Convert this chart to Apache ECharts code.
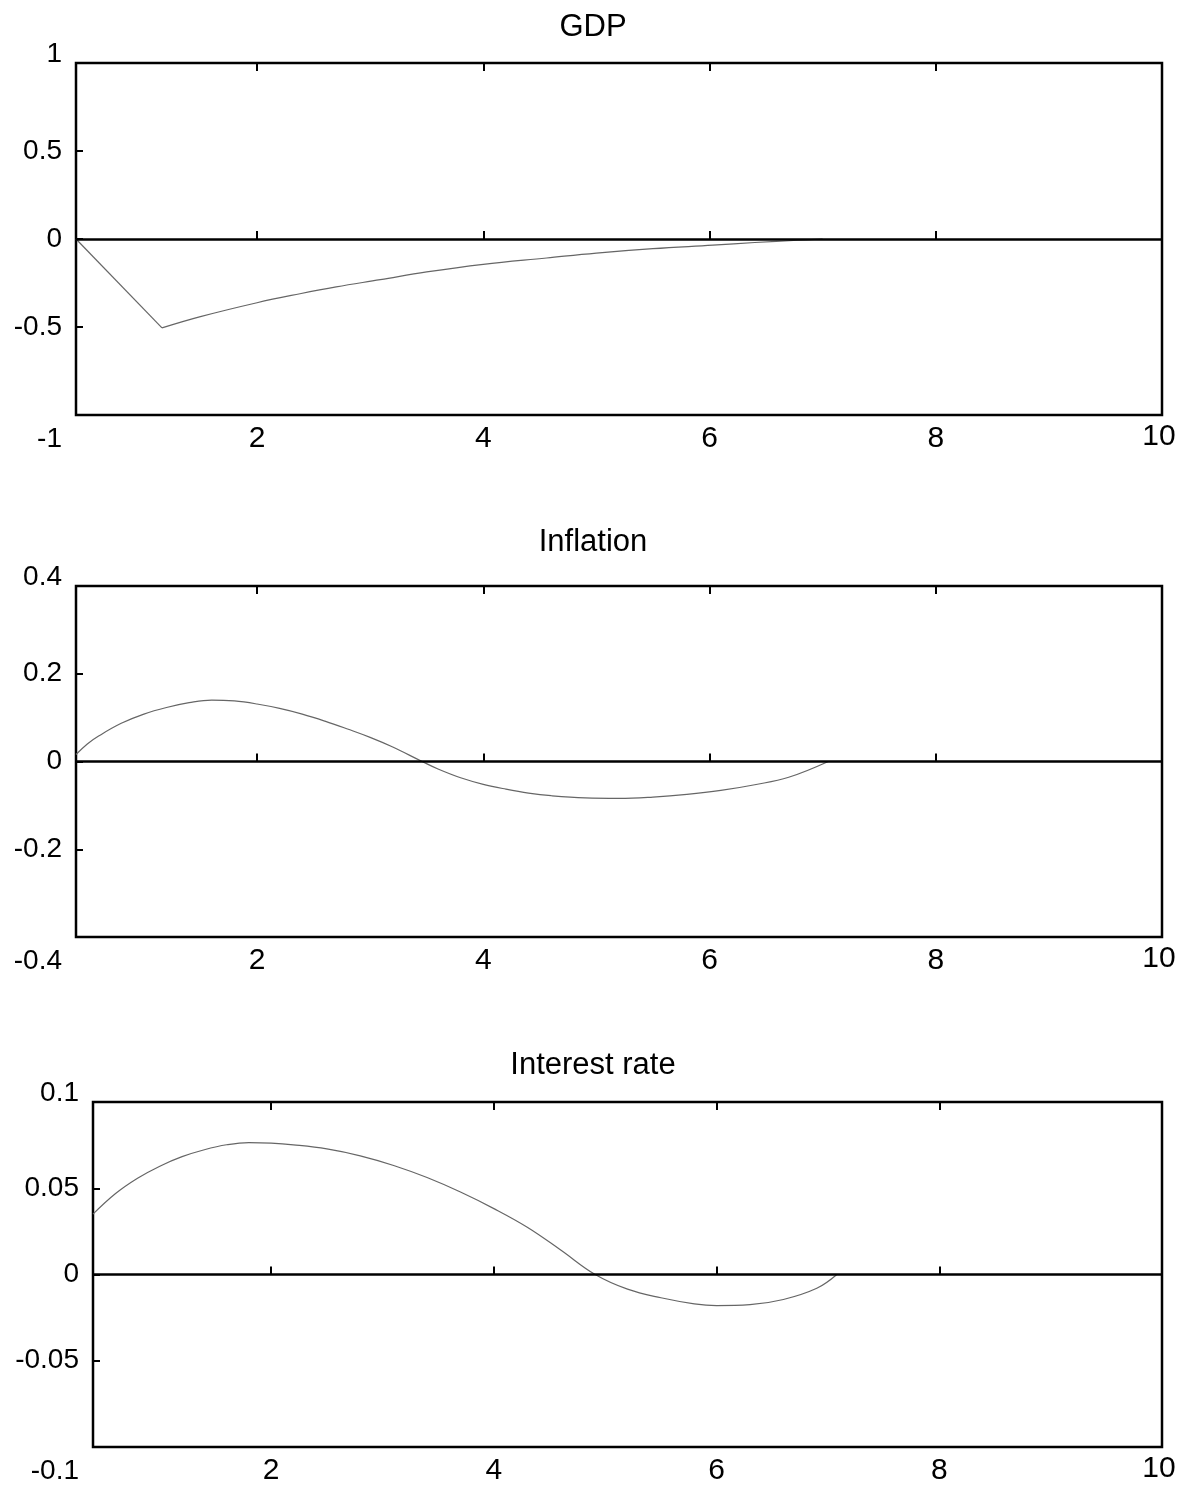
<!DOCTYPE html>
<html>
<head>
<meta charset="utf-8">
<script src="https://cdn.jsdelivr.net/npm/echarts@6/dist/echarts.min.js"></script>
<style>
html,body{margin:0;padding:0;background:#fff;}
#chart{width:1186px;height:1486px;}
</style>
</head>
<body>
<div id="chart"></div>
<script>
// ---- Data ----
const titles = ['GDP', 'Inflation', 'Interest rate'];
const xTickValues = [2, 4, 6, 8];
const xLabelValues = [2, 4, 6, 8, 10];
const xMin = 0.4, xMax = 10;

// GDP: straight drop to the trough, then a smooth decay back to zero
const gdpDropX = [0.4, 1.16];
const gdpDropY = [0, -0.505];
const gdpDecayX = [1.16, 1.5, 2.0, 2.38, 2.7, 3.09, 3.5, 4.0, 4.56, 5.0, 5.5, 6.03, 6.4, 6.78, 7.0];
const gdpDecayY = [-0.505, -0.441, -0.362, -0.311, -0.272, -0.231, -0.187, -0.144, -0.108, -0.080, -0.055, -0.035, -0.020, -0.007, 0];

const infX = [0.4, 0.5, 0.6, 0.8, 1.0, 1.2, 1.4, 1.6, 1.8, 2.0, 2.2, 2.4, 2.6, 2.8, 3.0, 3.2, 3.46, 3.6, 3.8, 4.0, 4.2, 4.4, 4.6, 4.9, 5.2, 5.5, 5.8, 6.1, 6.4, 6.7, 7.05];
const infY = [0.016, 0.040, 0.058, 0.087, 0.108, 0.123, 0.134, 0.140, 0.138, 0.131, 0.121, 0.108, 0.092, 0.074, 0.055, 0.033, 0, -0.017, -0.037, -0.052, -0.063, -0.072, -0.078, -0.083, -0.084, -0.081, -0.075, -0.066, -0.053, -0.036, 0];

const intX = [0.4, 0.6, 0.8, 1.0, 1.2, 1.4, 1.6, 1.8, 2.0, 2.2, 2.5, 2.8, 3.1, 3.4, 3.7, 4.0, 4.3, 4.6, 4.91, 5.2, 5.5, 5.8, 6.0, 6.3, 6.6, 6.9, 7.08];
const intY = [0.035, 0.0468, 0.0558, 0.0628, 0.0683, 0.0723, 0.0752, 0.0765, 0.0762, 0.0752, 0.0728, 0.0688, 0.0632, 0.0562, 0.0478, 0.0382, 0.0274, 0.0142, 0, -0.0085, -0.0135, -0.0170, -0.0180, -0.0175, -0.0145, -0.0080, 0];

const yRanges = [[-1, 1, 0.5], [-0.4, 0.4, 0.2], [-0.1, 0.1, 0.05]];

// ---- Layout ----
const FONT = '"Liberation Sans", Arial, Helvetica, sans-serif';
const grids = [
  {left: 76, top: 63, width: 1086, height: 352},
  {left: 76, top: 586, width: 1086, height: 351},
  {left: 93, top: 1102, width: 1069, height: 345}
];
const titleTops = [12, 527, 1050];
const LINE_COLOR = '#666666';
const YFS = 28, XFS = 30;

function zip(xs, ys) { return xs.map((x, i) => [x, ys[i]]); }

const option = {
  backgroundColor: '#fff',
  animation: false,
  title: titles.map((t, i) => ({
    text: t, left: 'center', top: titleTops[i], padding: 0,
    textStyle: {fontFamily: FONT, fontSize: 31, fontWeight: 'normal', color: '#000'}
  })),
  grid: grids.map(g => Object.assign({show: true, borderColor: '#000', borderWidth: 2.5, backgroundColor: 'transparent'}, g)),
  xAxis: [],
  yAxis: [],
  series: []
};

grids.forEach((g, i) => {
  option.xAxis.push({
    type: 'value', gridIndex: i, min: xMin, max: xMax, position: 'bottom',
    axisLine: {show: false},
    splitLine: {show: false},
    axisTick: {show: true, inside: true, length: 8, lineStyle: {color: '#000', width: 2}, customValues: xTickValues},
    axisLabel: {
      show: true, customValues: xLabelValues, margin: 9,
      fontFamily: FONT, fontSize: XFS, color: '#000',
      formatter: v => (v === xMax ? '{mx|' + v + '}' : String(v)),
      rich: {mx: {fontFamily: FONT, fontSize: XFS, color: '#000', lineHeight: 25, padding: [0, 6, 0, 0]}}
    }
  });
  option.xAxis.push({
    type: 'value', gridIndex: i, min: xMin, max: xMax, position: 'top',
    axisLine: {show: false}, splitLine: {show: false}, axisLabel: {show: false},
    axisTick: {show: true, inside: true, length: 8, lineStyle: {color: '#000', width: 2}, customValues: xTickValues}
  });
  const [ymin, ymax, step] = yRanges[i];
  option.yAxis.push({
    type: 'value', gridIndex: i, min: ymin, max: ymax, interval: step,
    axisLine: {show: false}, splitLine: {show: false},
    axisTick: {show: true, inside: true, length: 7, lineStyle: {color: '#000', width: 2}},
    axisLabel: {
      show: true, margin: 14, fontFamily: FONT, fontSize: YFS, color: '#000',
      formatter: function (v) {
        const s = String(+v.toFixed(4));
        if (Math.abs(v - ymax) < 1e-9) return '{mx|' + s + '}';
        if (Math.abs(v - ymin) < 1e-9) return '{mn|' + s + '}';
        return s;
      },
      rich: {
        mx: {fontFamily: FONT, fontSize: YFS, color: '#000', padding: [0, 0, 18, 0]},
        mn: {fontFamily: FONT, fontSize: YFS, color: '#000', padding: [48, 0, 0, 0]}
      }
    }
  });
});

const zeroLine = {
  silent: true, symbol: 'none', animation: false,
  label: {show: false},
  lineStyle: {color: '#000', width: 2.5, type: 'solid'},
  data: [{yAxis: 0}]
};
const lineBase = {type: 'line', showSymbol: false, lineStyle: {color: LINE_COLOR, width: 1.2}};

option.series = [
  Object.assign({}, lineBase, {xAxisIndex: 0, yAxisIndex: 0, data: zip(gdpDropX, gdpDropY), smooth: false, markLine: zeroLine}),
  Object.assign({}, lineBase, {xAxisIndex: 0, yAxisIndex: 0, data: zip(gdpDecayX, gdpDecayY), smooth: 0.4}),
  Object.assign({}, lineBase, {xAxisIndex: 2, yAxisIndex: 1, data: zip(infX, infY), smooth: 0.4, markLine: zeroLine}),
  Object.assign({}, lineBase, {xAxisIndex: 4, yAxisIndex: 2, data: zip(intX, intY), smooth: 0.4, markLine: zeroLine})
];

const chart = echarts.init(document.getElementById('chart'), null, {renderer: 'canvas'});
chart.setOption(option);
</script>
</body>
</html>
